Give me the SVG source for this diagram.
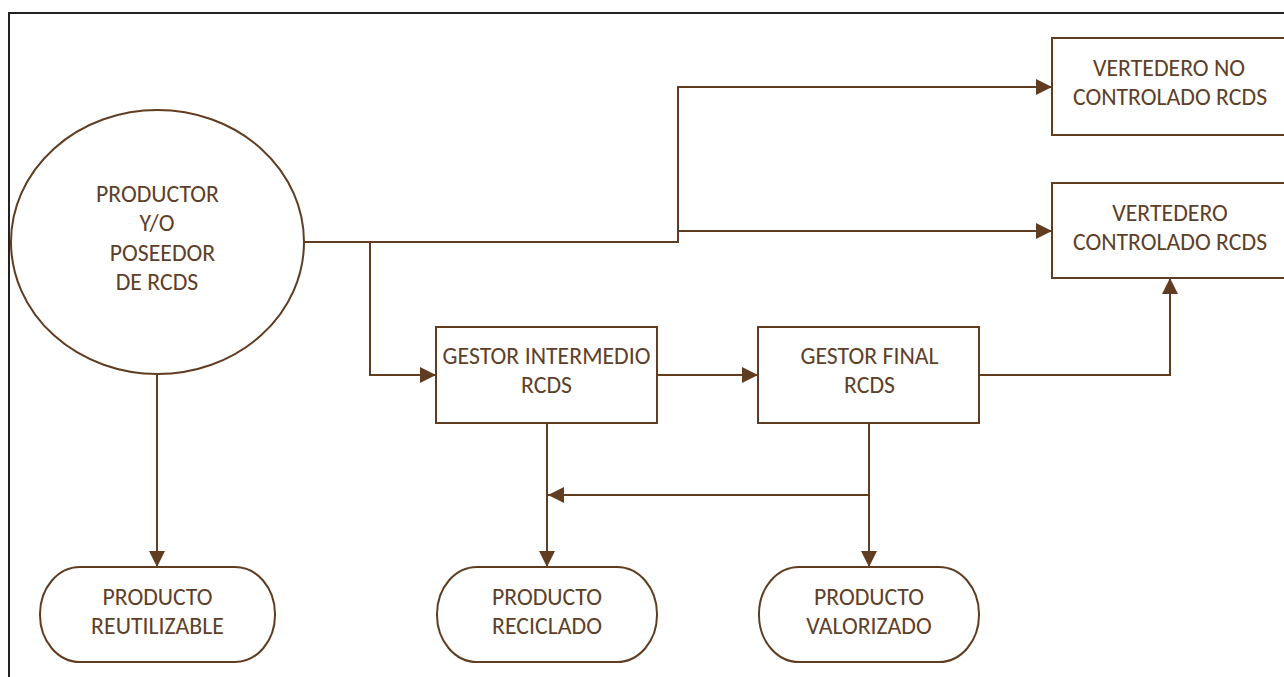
<svg xmlns="http://www.w3.org/2000/svg" width="1284" height="677" viewBox="0 0 1284 677">
  <defs>
    <marker id="arr" markerUnits="userSpaceOnUse" markerWidth="16" markerHeight="16" viewBox="0 0 10 10" refX="10" refY="5" orient="auto">
      <path d="M0,0 L10,5 L0,10 z" fill="#603d21"/>
    </marker>
    <style>
      .shape { fill: #ffffff; stroke: #603d21; stroke-width: 2; }
      .conn { fill: none; stroke: #603d21; stroke-width: 2; }
      .arrow { marker-end: url(#arr); }
      text { font-family: Calibri, Carlito, "Liberation Sans", Arial, sans-serif; font-size: 23.8px; fill: #5e4029; text-anchor: middle; }
    </style>
  </defs>
  <rect x="0" y="0" width="1284" height="677" fill="#ffffff"/>
  <rect x="9" y="13" width="1300" height="700" fill="none" stroke="#222222" stroke-width="2"/>

  <g id="connectors">
    <path class="conn arrow" d="M304,242 H678 V87 H1052"/>
    <path class="conn arrow" d="M678,231 H1052"/>
    <path class="conn arrow" d="M370,242 V375 H436"/>
    <path class="conn arrow" d="M657,375 H758"/>
    <path class="conn arrow" d="M979,375 H1170 V278"/>
    <path class="conn arrow" d="M157,374 V567"/>
    <path class="conn arrow" d="M547,423 V567"/>
    <path class="conn arrow" d="M869,423 V567"/>
    <path class="conn arrow" d="M869,495 H548"/>
  </g>

  <g id="productor">
    <ellipse class="shape" cx="157.5" cy="242" rx="146.5" ry="132"/>
    <text x="157.5" y="202">PRODUCTOR</text>
    <text x="157" y="231">Y/O</text>
    <text x="162.5" y="261">POSEEDOR</text>
    <text x="157" y="290">DE RCDS</text>
  </g>

  <g id="vertedero-no-controlado">
    <rect class="shape" x="1052" y="38" width="240" height="97"/>
    <text x="1169" y="76">VERTEDERO NO</text>
    <text x="1170" y="105">CONTROLADO RCDS</text>
  </g>

  <g id="vertedero-controlado">
    <rect class="shape" x="1052" y="183" width="240" height="95"/>
    <text x="1170" y="221">VERTEDERO</text>
    <text x="1170" y="250">CONTROLADO RCDS</text>
  </g>

  <g id="gestor-intermedio">
    <rect class="shape" x="436" y="327" width="221" height="96"/>
    <text x="546.5" y="364">GESTOR INTERMEDIO</text>
    <text x="546.5" y="393">RCDS</text>
  </g>

  <g id="gestor-final">
    <rect class="shape" x="758" y="327" width="221" height="96"/>
    <text x="869.5" y="364">GESTOR FINAL</text>
    <text x="869.5" y="393">RCDS</text>
  </g>

  <g id="producto-reutilizable">
    <rect class="shape" x="40" y="567" width="235" height="95" rx="40" ry="47"/>
    <text x="157.5" y="605">PRODUCTO</text>
    <text x="157.5" y="634">REUTILIZABLE</text>
  </g>

  <g id="producto-reciclado">
    <rect class="shape" x="437" y="567" width="220" height="95" rx="40" ry="47"/>
    <text x="547" y="605">PRODUCTO</text>
    <text x="547" y="634">RECICLADO</text>
  </g>

  <g id="producto-valorizado">
    <rect class="shape" x="759" y="567" width="220" height="95" rx="40" ry="47"/>
    <text x="869" y="605">PRODUCTO</text>
    <text x="869" y="634">VALORIZADO</text>
  </g>
</svg>
